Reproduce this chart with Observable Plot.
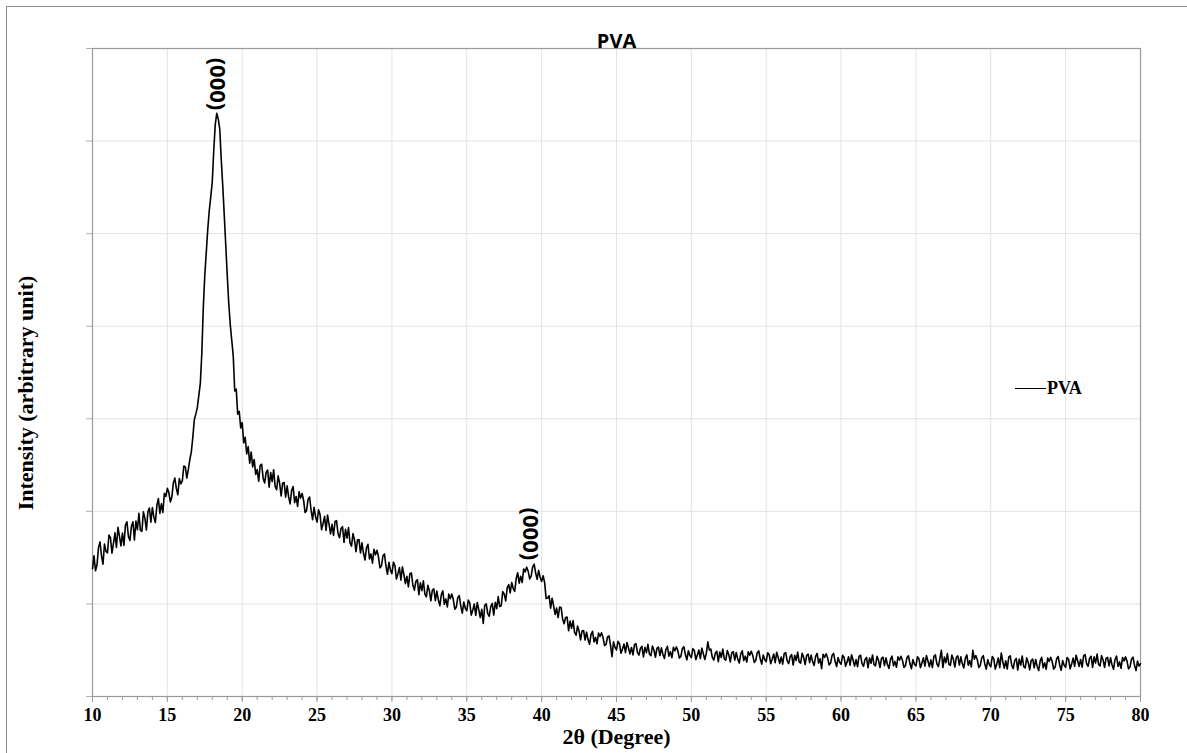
<!DOCTYPE html>
<html>
<head>
<meta charset="utf-8">
<script src="https://cdn.jsdelivr.net/npm/d3@7"></script>
<script src="https://cdn.jsdelivr.net/npm/@observablehq/plot@0.6"></script>
<style>
html,body{margin:0;padding:0;background:#fff;overflow:hidden}
#wrap{position:relative;width:1187px;height:753px}
#wrap svg{position:absolute;left:0;top:0}
#border{position:absolute;left:6px;top:6px;width:1240px;height:800px;border:1.5px solid #8c8c8c;box-sizing:border-box;pointer-events:none}
#legend{position:absolute;left:1015px;top:378px;font:bold 18px "Liberation Serif",serif;display:flex;align-items:center;color:#000}
#legend .sw{width:31px;height:0;border-top:1.6px solid #000;margin-right:1px}
#ytitle{position:absolute;left:26px;top:393px;transform:translate(-50%,-50%) rotate(-90deg);white-space:nowrap;font:bold 22px "Liberation Serif",serif;color:#000}
</style>
</head>
<body>
<div id="wrap"></div>
<script>
// ---- data ----
const title = "PVA";
const xTitle = "2θ (Degree)";
const yTitle = "Intensity (arbitrary unit)";
const seriesName = "PVA";
const xStart = 10, xStep = 0.1;
const intensity = [
// 10
1380,1520,1358,1420,1608,1670,1522,1430,1646,1568,
// 11
1552,1744,1715,1548,1654,1768,1609,1827,1733,1626,
// 12
1766,1633,1851,1887,1728,1686,1839,1888,1690,1895,
// 13
1801,1980,1795,1784,1994,1926,1798,1995,2036,1882,
// 14
2042,1937,1880,2063,2138,1978,2082,1989,2196,2161,
// 15
2249,2203,2102,2155,2307,2360,2248,2180,2354,2297,
// 16
2330,2490,2480,2360,2450,2560,2640,2800,2990,3050,
// 17
3120,3250,3380,3700,4200,4550,4800,5050,5250,5400,
// 18
5560,5900,6180,6300,6240,6130,5800,5520,5200,4880,
// 19
4550,4250,4020,3850,3680,3300,3320,3050,3080,2900,
// 20
2960,2740,2800,2620,2700,2520,2640,2480,2560,2400,
// 21
2452,2326,2497,2509,2356,2307,2423,2446,2260,2420,
// 22
2322,2450,2270,2233,2383,2302,2166,2305,2312,2154,
// 23
2276,2156,2080,2224,2269,2094,2161,2052,2213,2143,
// 24
2194,2118,1987,2010,2132,2155,2013,1910,2044,1942,
// 25
1884,2018,1965,1801,1868,1946,1793,1959,1861,1757,
// 26
1860,1740,1890,1900,1760,1715,1815,1835,1665,1805,
// 27
1710,1825,1660,1625,1760,1690,1565,1690,1695,1550,
// 28
1660,1550,1475,1605,1645,1485,1540,1440,1590,1530,
// 29
1580,1510,1390,1410,1520,1540,1410,1320,1450,1365,
// 30
1328,1451,1413,1269,1326,1392,1258,1401,1315,1219,
// 31
1299,1184,1327,1336,1202,1149,1244,1262,1100,1228,
// 32
1143,1250,1105,1077,1202,1143,1034,1150,1163,1036,
// 33
1139,1044,980,1101,1141,996,1054,968,1107,1057,
// 34
1106,1047,943,965,1068,1090,977,900,1021,953,
// 35
926,1042,1010,879,932,999,877,1016,939,853,
// 36
942,790,985,1002,896,867,971,1006,880,1018,
// 37
949,1080,972,980,1133,1107,1033,1173,1210,1119,
// 38
1231,1166,1135,1274,1337,1224,1299,1232,1378,1346,
// 39
1397,1354,1271,1300,1401,1430,1334,1265,1362,1286,
// 40
1242,1304,1230,1058,1064,1088,954,1062,978,886,
// 41
956,853,966,962,838,786,854,858,710,815,
// 42
737,820,692,662,760,705,612,708,713,610,
// 43
695,615,565,670,703,590,638,570,685,648,
// 44
688,638,550,562,643,655,555,430,590,532,
// 45
503,596,570,467,514,567,473,583,525,460,
// 46
529,449,559,571,477,447,521,542,428,531,
// 47
474,564,457,441,545,502,424,521,534,442,
// 48
525,454,411,508,542,436,484,420,531,495,
// 49
536,493,415,435,518,538,453,396,493,443,
// 50
420,517,496,398,447,502,410,522,462,400,
// 51
466,590,500,513,423,394,468,489,376,480,
// 52
422,512,407,392,496,452,374,471,484,393,
// 53
475,404,362,460,494,388,436,372,483,447,
// 54
488,445,368,389,472,492,407,350,448,400,
// 55
376,473,452,354,403,459,365,477,421,358,
// 56
427,350,462,475,384,356,431,452,340,445,
// 57
389,480,375,361,466,424,345,443,457,366,
// 58
447,377,335,433,466,361,409,300,456,421,
// 59
461,418,341,362,445,465,380,323,420,371,
// 60
348,445,424,326,374,430,338,450,394,330,
// 61
399,322,433,446,355,326,401,422,310,415,
// 62
359,449,344,330,434,392,313,411,425,334,
// 63
417,346,304,402,436,331,379,316,428,393,
// 64
434,391,314,335,419,440,356,300,398,349,
// 65
330,429,409,311,361,418,328,442,386,322,
// 66
395,313,434,450,352,323,408,500,313,426,
// 67
365,463,350,335,447,402,318,424,438,340,
// 68
428,353,308,412,449,337,387,320,500,403,
// 69
443,397,314,336,420,441,352,295,398,345,
// 70
320,432,408,296,352,416,312,470,378,306,
// 71
386,297,425,440,336,302,390,412,286,405,
// 72
339,436,323,308,417,370,288,391,403,310,
// 73
400,325,280,385,423,310,363,295,415,378,
// 74
423,378,296,318,408,432,343,283,388,337,
// 75
315,422,402,299,352,415,325,446,386,325,
// 76
400,317,438,453,355,327,413,435,315,428,
// 77
362,458,346,330,441,395,315,411,423,330,
// 78
417,340,295,400,436,325,374,305,420,385,
// 79
428,382,299,320,404,425,339,280,383,330,
// 80
355
];
const twoTheta = intensity.map((_, i) => Math.round((xStart + i * xStep) * 10) / 10);
const peakX = [18.3, 39.2];
const peakY = [6300, 1440];
const peakText = ["(000)", "(000)"];
const xMajorTicks = [10,15,20,25,30,35,40,45,50,55,60,65,70,75,80];
const xMinorTicks = d3.range(10, 81, 1);
const yTicks = [0,1000,2000,3000,4000,5000,6000,7000];

const data = twoTheta.map((t, i) => ({t, v: intensity[i]}));
const peaks = peakX.map((x, i) => ({x, y: peakY[i], label: peakText[i]}));

const serif = "'Liberation Serif','Times New Roman',serif";
const sans = "'Open Sans','Liberation Sans',sans-serif";

const chart = Plot.plot({
  width: 1187, height: 753,
  marginLeft: 92, marginRight: 47, marginTop: 48, marginBottom: 57,
  style: {background: "transparent", overflow: "visible", color: "#000"},
  x: {domain: [10, 80]},
  y: {domain: [0, 7000]},
  marks: [
    Plot.gridX(xMajorTicks, {stroke: "#e4e4e4", strokeOpacity: 1}),
    Plot.gridY(yTicks, {stroke: "#e4e4e4", strokeOpacity: 1}),
    Plot.axisX(xMinorTicks, {tickSize: 4, tickFormat: () => "", stroke: "#9a9a9a", label: null}),
    Plot.axisX(xMajorTicks, {tickSize: 6, tickPadding: 6, stroke: "#9a9a9a", fill: "#000", fontSize: 18, fontWeight: "bold", fontFamily: serif, label: null}),
    Plot.axisY(yTicks, {tickSize: 6, tickFormat: () => "", stroke: "#b0b0b0", label: null}),
    Plot.frame({stroke: "#9a9a9a", strokeWidth: 1.2}),
    Plot.line(data, {x: "t", y: "v", stroke: "#000", strokeWidth: 1.6}),
    Plot.text(peaks, {x: "x", y: "y", text: "label", rotate: 90, textAnchor: "end", dy: -3, fontSize: 22, fontWeight: "bold", fontFamily: sans, fill: "#000"}),
    Plot.text([title], {frameAnchor: "top", dy: -15, fontSize: 20, fontWeight: "bold", fontFamily: sans, fill: "#000"}),
    Plot.text([xTitle], {frameAnchor: "bottom", dy: 47, fontSize: 22, fontWeight: "bold", fontFamily: serif, fill: "#000"})
  ]
});
const wrap = document.getElementById("wrap");
wrap.appendChild(chart);
const border = document.createElement("div");
border.id = "border";
wrap.appendChild(border);
const yt = document.createElement("div");
yt.id = "ytitle";
yt.textContent = yTitle;
wrap.appendChild(yt);
const legend = document.createElement("div");
legend.id = "legend";
legend.innerHTML = '<span class="sw"></span><span></span>';
legend.lastChild.textContent = seriesName;
wrap.appendChild(legend);
</script>
</body>
</html>
